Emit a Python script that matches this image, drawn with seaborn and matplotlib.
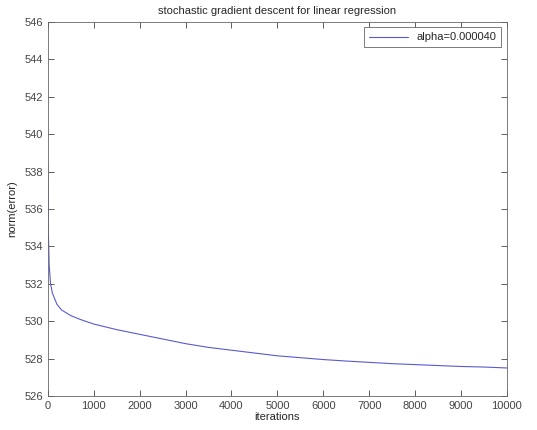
import numpy as np
import pandas as pd
import matplotlib
matplotlib.use("Agg")
import matplotlib.pyplot as plt
import seaborn as sns

iterations = [0, 10, 30, 60, 100, 200, 300, 500, 700, 1000, 1500, 2000, 2500,
              3000, 3500, 4000, 4500, 5000, 5500, 6000, 6500, 7000, 7500,
              8000, 8500, 9000, 9500, 10000]
norm_error = [538.4, 535.0, 533.0, 532.0, 531.5, 530.9, 530.6, 530.3, 530.1,
              529.85, 529.55, 529.3, 529.05, 528.8, 528.6, 528.45, 528.3,
              528.15, 528.05, 527.95, 527.87, 527.8, 527.73, 527.68, 527.63,
              527.58, 527.55, 527.5]
label = "alpha=0.000040"

df = pd.DataFrame({"iterations": iterations, "norm(error)": norm_error})

sns.set_style("ticks")
plt.rcParams['font.family'] = ['Liberation Sans', 'DejaVu Sans']

fig = plt.figure(figsize=(5.37, 4.30), dpi=100)
ax = fig.add_axes([0.089, 0.079, 0.855, 0.870])

sns.lineplot(data=df, x="iterations", y="norm(error)", ax=ax, color="#5a5ad0",
             linewidth=0.8, label=label)

ax.set_xlim(0, 10000)
ax.set_ylim(526, 546)
ax.set_xticks(np.arange(0, 10001, 1000))
ax.set_yticks(np.arange(526, 547, 2))
ax.tick_params(direction="in", top=True, right=True, labelsize=8,
               length=4, width=0.6, colors="#444444")
for s in ax.spines.values():
    s.set_linewidth(0.6)
    s.set_color("#666666")

ax.set_title("stochastic gradient descent for linear regression", fontsize=8)
ax.set_xlabel("iterations", fontsize=8, labelpad=1)
ax.set_ylabel("norm(error)", fontsize=8, labelpad=5)

leg = ax.legend(loc="upper right", fontsize=8, fancybox=False,
                handlelength=3.5, borderpad=0.45, framealpha=1)
leg.get_frame().set_edgecolor("#666666")
leg.get_frame().set_linewidth(0.6)

plt.savefig("out.png", dpi=100)
